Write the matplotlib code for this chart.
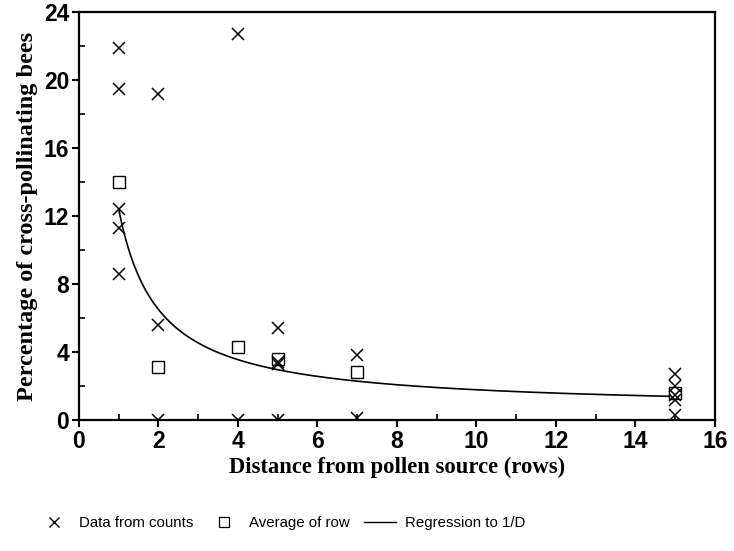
import matplotlib
matplotlib.use("Agg")
import matplotlib.pyplot as plt
from matplotlib.lines import Line2D
from matplotlib.ticker import MultipleLocator
import numpy as np

# crosses: individual counts
count_x = [1, 1, 1, 1, 1, 2, 2, 2, 4, 4, 5, 5, 5, 5, 7, 7, 15, 15, 15, 15, 15]
count_y = [21.9, 19.5, 12.4, 11.3, 8.6, 19.2, 5.6, 0.0, 22.7, 0.0,
           5.4, 3.4, 3.3, 0.0, 3.8, 0.1, 2.7, 2.0, 1.5, 1.2, 0.3]

# squares: average of row
avg_x = [1, 2, 4, 5, 7, 15]
avg_y = [14.0, 3.1, 4.3, 3.6, 2.8, 1.6]

# regression y = a + b / D
reg_a = 0.6
reg_b = 11.8
reg_from, reg_to = 1, 15

fig = plt.figure(figsize=(7.34, 5.51), dpi=100)
ax = fig.add_axes([0.1076, 0.2377, 0.8664, 0.7405])

d = np.linspace(reg_from, reg_to, 300)
ax.plot(d, reg_a + reg_b / d, color='black', lw=1.2)
ax.plot(avg_x, avg_y, 's', mfc='white', mec='black', ms=8, mew=1.0, ls='none')
ax.plot(count_x, count_y, 'x', color='black', ms=8, mew=1.1, ls='none')

ax.set_xlim(0, 16)
ax.set_ylim(0, 24)
ax.xaxis.set_major_locator(MultipleLocator(2))
ax.xaxis.set_minor_locator(MultipleLocator(1))
ax.yaxis.set_major_locator(MultipleLocator(4))
ax.yaxis.set_minor_locator(MultipleLocator(2))
ax.tick_params(which='major', direction='out', length=5, width=1.5,
               labelsize=16.5, pad=2)
ax.tick_params(which='minor', direction='in', length=4, width=1.2)
for lab in ax.get_xticklabels() + ax.get_yticklabels():
    lab.set_fontfamily(['Liberation Sans', 'DejaVu Sans'])
    lab.set_fontweight('bold')
for sp in ax.spines.values():
    sp.set_linewidth(1.6)

ax.set_xlabel('Distance from pollen source (rows)', fontfamily='Liberation Serif',
              fontweight='bold', fontsize=16.3, labelpad=3)
ax.set_ylabel('Percentage of cross-pollinating bees', fontfamily='Liberation Serif',
              fontweight='bold', fontsize=17.5, labelpad=4)

handles = [
    Line2D([], [], marker='x', color='black', ls='none', ms=7, mew=1.0),
    Line2D([], [], marker='s', mfc='white', mec='black', ls='none', ms=7, mew=0.9),
    Line2D([], [], color='black', lw=1.0),
]
labels = ['Data from counts', 'Average of row', 'Regression to 1/D']
fig.legend(handles, labels, loc='center', bbox_to_anchor=(0.384, 0.051), ncol=3,
           frameon=False, prop={'family': 'Liberation Sans', 'size': 10.8},
           handlelength=2.1, columnspacing=1.0, handletextpad=0.6)

fig.savefig('out.png', dpi=100)
